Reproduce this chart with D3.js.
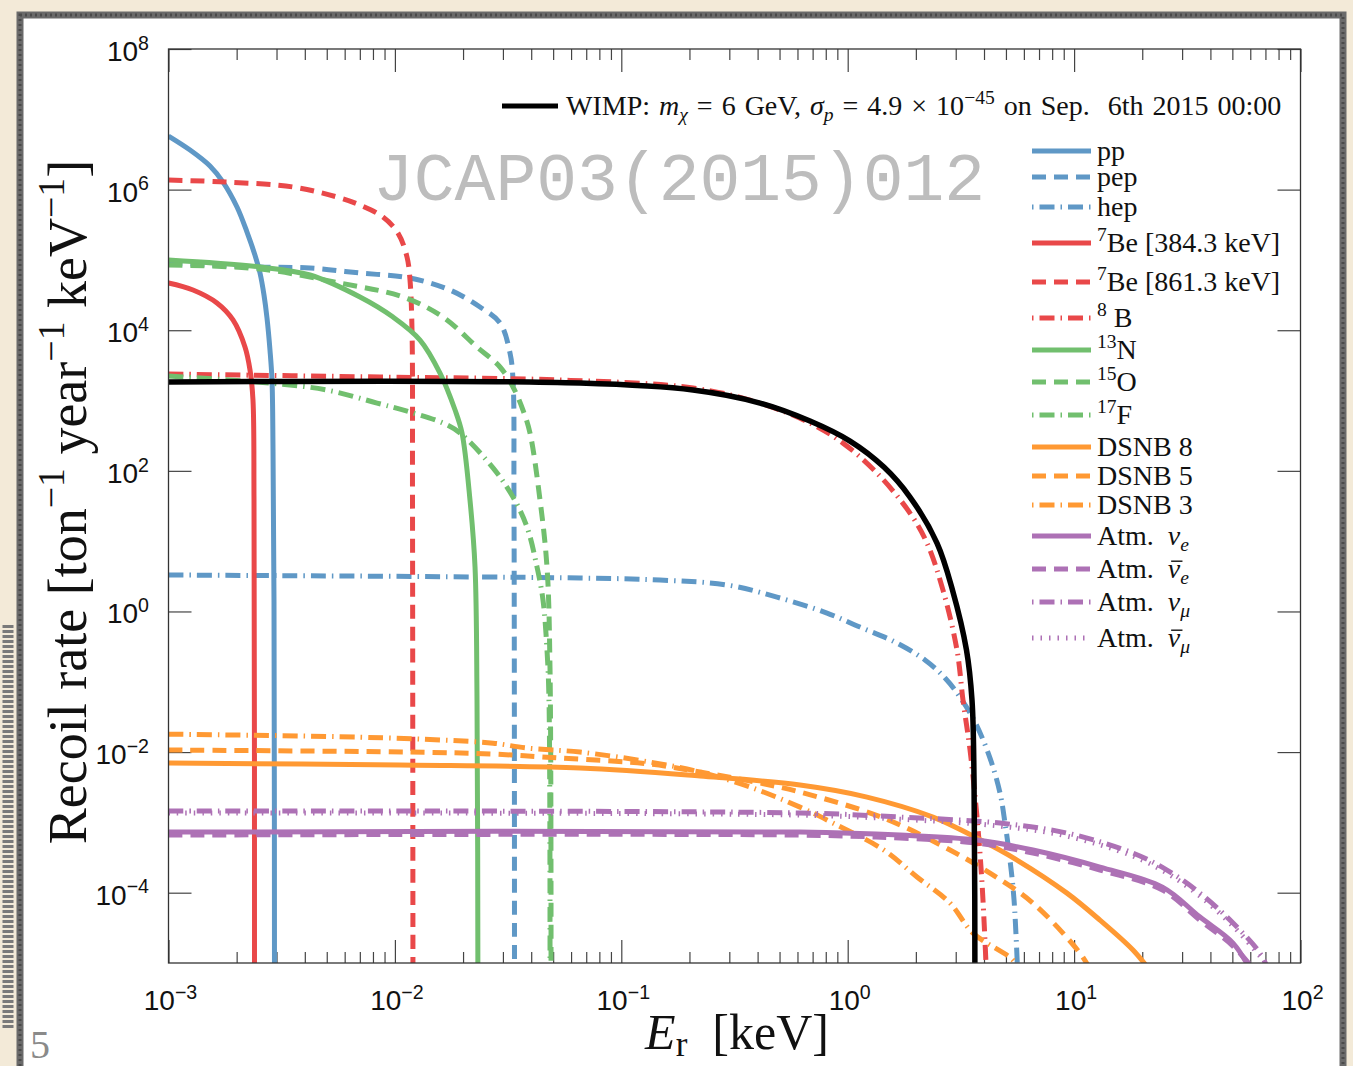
<!DOCTYPE html>
<html lang="en">
<head>
<meta charset="UTF-8">
<title>Recoil rate</title>
<script src="https://cdn.jsdelivr.net/npm/d3@7"></script>
<style>
  body { margin: 0; background: #f3ead8; }
  svg { display: block; }
  text { white-space: pre; }
  .serif { font-family: "Liberation Serif", "DejaVu Serif", serif; fill: #111; }
  .sans { font-family: "Liberation Sans", Arial, sans-serif; fill: #111; }
  .ticks line { stroke: #444; stroke-width: 1.2; }
</style>
</head>
<body>
<script>
// ---- data (E in keV, rate in ton^-1 year^-1 keV^-1) ----
const ppE = [1e-3, 1.245e-3, 1.525e-3, 1.741e-3, 2.007e-3, 2.222e-3, 2.41e-3, 2.536e-3, 2.641e-3, 2.723e-3, 2.807e-3, 2.865e-3, 2.895e-3, 2.924e-3, 2.94e-3];
const ppR = [5.78e6, 3.66e6, 2.17e6, 1.28e6, 5.66e5, 2.49e5, 1.17e5, 6.51e4, 3.17e4, 1.49e4, 5.22e3, 1.96e3, 198, 1.45, 1e-6];

const pepE = [1e-3, 2.536e-3, 4.217e-3, 7.01e-3, 1.166e-2, 1.751e-2, 2.376e-2, 2.912e-2, 3.224e-2, 3.324e-2, 3.357e-2, 3.375e-2];
const pepR = [9.04e4, 7.93e4, 7.67e4, 6.51e4, 5.53e4, 3.73e4, 2.14e4, 1.27e4, 4.74e3, 1.96e3, 38.5, 1e-6];

const hepE = [1e-3, 6.57e-2, 0.1482, 0.293, 0.4872, 0.8103, 1.133, 1.585, 2.194, 2.691, 3.133, 3.65, 4.252, 4.708, 4.953, 5.21, 5.43, 5.66];
const hepR = [3.30, 2.99, 2.80, 2.38, 1.60, 0.948, 0.60, 0.379, 0.204, 0.113, 6.05e-2, 2.67e-2, 8.22e-3, 2.61e-3, 9.77e-4, 2.91e-4, 7.85e-5, 5e-6];

const be7aE = [1e-3, 1.283e-3, 1.637e-3, 1.927e-3, 2.177e-3, 2.291e-3, 2.361e-3, 2.386e-3, 2.398e-3];
const be7aR = [4.69e4, 3.73e4, 2.44e4, 1.40e4, 5.77e3, 2.72e3, 1.02e3, 38.5, 1e-6];

const be7bE = [1e-3, 1.812e-3, 3.548e-3, 5.55e-3, 7.01e-3, 8.86e-3, 1.032e-2, 1.131e-2, 1.166e-2, 1.19e-2, 1.196e-2, 1.202e-2];
const be7bR = [1.37e6, 1.28e6, 1.09e6, 7.85e5, 6.04e5, 4.07e5, 2.41e5, 1.10e5, 5.18e4, 1.01e4, 38.5, 1e-6];

const b8E = [1e-3, 8.59e-3, 5.36e-2, 0.2074, 0.41, 0.6815, 0.9533, 1.347, 1.884, 2.24, 2.636, 3.039, 3.23, 3.47, 3.725, 3.92, 4.12];
const b8R = [2.38e3, 2.16e3, 1.96e3, 1.51e3, 921, 479, 248, 93.1, 25.1, 9.4, 2.01, 0.283, 0.055, 1.07e-2, 1.19e-3, 1.37e-4, 5e-6];

const n13E = [1e-3, 2.536e-3, 4.217e-3, 7.01e-3, 9.81e-3, 1.291e-2, 1.582e-2, 1.844e-2, 1.979e-2, 2.146e-2, 2.259e-2, 2.305e-2, 2.328e-2];
const n13R = [9.97e4, 7.93e4, 6.10e4, 2.97e4, 1.54e4, 7.26e3, 2.46e3, 733, 345, 38.5, 4.28, 0.055, 1e-6];

const o15E = [1e-3, 2.536e-3, 5.72e-3, 1.086e-2, 1.631e-2, 2.305e-2, 2.912e-2, 3.324e-2, 3.679e-2, 3.951e-2, 4.375e-2, 4.697e-2, 4.842e-2, 4.892e-2];
const o15R = [8.46e4, 7.43e4, 4.69e4, 2.97e4, 1.54e4, 5.77e3, 3.0e3, 1.56e3, 733, 345, 38.5, 4.28, 0.162, 1e-6];

const f17E = [1e-3, 2.807e-3, 5.01e-3, 8.34e-3, 1.166e-2, 1.631e-2, 1.94e-2, 2.713e-2, 3.324e-2, 3.832e-2, 4.244e-2, 4.51e-2, 4.697e-2, 4.793e-2, 4.842e-2];
const f17R = [2.23e3, 1.77e3, 1.41e3, 921, 686, 479, 345, 110, 42.4, 15.9, 4.28, 1.45, 0.283, 0.055, 1e-6];

const dsnb8E = [1e-3, 1.053e-2, 6.57e-2, 0.2226, 0.6157, 1.217, 2.381, 3.725, 5.595, 9.30, 13.01, 18.2, 21.5];
const dsnb8R = [6.98e-3, 6.53e-3, 5.92e-3, 4.56e-3, 3.40e-3, 2.29e-3, 1.19e-3, 5.98e-4, 2.91e-4, 9.86e-5, 4.07e-5, 1.53e-5, 8e-6];

const dsnb5E = [1e-3, 1.166e-2, 2.713e-2, 5.36e-2, 0.1339, 0.2226, 0.3702, 0.6157, 1.445, 2.831, 4.252, 6.58, 10.62, 11.8];
const dsnb5R = [1.07e-2, 1.0e-2, 9.37e-3, 8.22e-3, 6.75e-3, 5.2e-3, 3.87e-3, 2.70e-3, 1.15e-3, 4.04e-4, 1.90e-4, 7.11e-5, 1.38e-5, 8e-6];

const dsnb3E = [1e-3, 7.01e-3, 1.631e-2, 2.713e-2, 3.832e-2, 6.57e-2, 0.1339, 0.2226, 0.3702, 0.6157, 0.861, 1.445, 2.024, 2.831, 3.576, 5.37, 5.65];
const dsnb3R = [1.80e-2, 1.63e-2, 1.48e-2, 1.34e-2, 1.14e-2, 1.0e-2, 7.21e-3, 5.2e-3, 3.18e-3, 1.65e-3, 9.77e-4, 4.04e-4, 1.67e-4, 7.11e-5, 2.66e-5, 1.10e-5, 8e-6];

const atmNueE = [1e-3, 0.6157, 1.702, 3.725, 6.58, 13.01, 24.57, 35.98, 50.35, 60.0];
const atmNueR = [7.28e-4, 7.28e-4, 6.59e-4, 5.6e-4, 4.04e-4, 2.31e-4, 1.2e-4, 4.5e-5, 1.92e-5, 8e-6];

const atmNuebE = [1e-3, 0.6157, 1.702, 3.725, 6.58, 13.01, 24.57, 35.98, 50.35, 62.5];
const atmNuebR = [6.59e-4, 6.59e-4, 5.98e-4, 5.08e-4, 3.66e-4, 2.1e-4, 1.09e-4, 4.07e-5, 1.74e-5, 8e-6];

const atmNumuE = [1e-3, 0.6157, 1.702, 4.708, 9.30, 18.2, 25.72, 35.98, 50.35, 66.24, 72.0];
const atmNumuR = [1.45e-3, 1.36e-3, 1.19e-3, 9.77e-4, 7.05e-4, 3.66e-4, 2.1e-4, 9.86e-5, 3.7e-5, 1.38e-5, 8e-6];

const atmNumubE = [1e-3, 0.6157, 1.702, 4.708, 9.30, 18.2, 25.72, 35.98, 50.35, 66.24, 73.5];
const atmNumubR = [1.36e-3, 1.27e-3, 1.11e-3, 8.85e-4, 6.38e-4, 3.32e-4, 1.90e-4, 8.95e-5, 3.35e-5, 1.25e-5, 8e-6];

const wimpE = [1e-3, 6.57e-2, 0.2074, 0.41, 0.6815, 1.024, 1.445, 1.884, 2.48, 2.904, 3.347, 3.54, 3.614, 3.65];
const wimpR = [1.83e3, 1.77e3, 1.41e3, 921, 511, 265, 113, 42.4, 9.4, 2.01, 0.283, 0.055, 4.0e-3, 1e-6];

// tick labels (powers of ten)
const xTickExp = [-3, -2, -1, 0, 1, 2];
const yTickExp = [-4, -2, 0, 2, 4, 6, 8];

const labels = ["pp", "pep", "hep", "^{7}Be [384.3 keV]", "^{7}Be [861.3 keV]", "^{8} B",
  "^{13}N", "^{15}O", "^{17}F", "DSNB 8", "DSNB 5", "DSNB 3",
  "Atm.  *ν*_{e}", "Atm.  !{ν}_{e}", "Atm.  *ν*_{μ}", "Atm.  !{ν}_{μ}"];
const wimpLabel = "WIMP: *m*_{χ} = 6 GeV, *σ*_{p} = 4.9 × 10^{−45} on Sep.  6th 2015 00:00";

// ---- styles ----
const blue = "#5f98c6", red = "#e94849", green = "#71bf6e", orange = "#ff9933", purple = "#ad71b5";
const dash = { solid: null, dashed: "14,8", dashdot: "15,6,1.5,6", dotted: "1.5,7" };

const series = [
  { E: ppE, R: ppR, c: blue, d: "solid" },
  { E: pepE, R: pepR, c: blue, d: "dashed" },
  { E: hepE, R: hepR, c: blue, d: "dashdot" },
  { E: be7aE, R: be7aR, c: red, d: "solid" },
  { E: be7bE, R: be7bR, c: red, d: "dashed" },
  { E: b8E, R: b8R, c: red, d: "dashdot" },
  { E: n13E, R: n13R, c: green, d: "solid" },
  { E: o15E, R: o15R, c: green, d: "dashed" },
  { E: f17E, R: f17R, c: green, d: "dashdot" },
  { E: dsnb8E, R: dsnb8R, c: orange, d: "solid" },
  { E: dsnb5E, R: dsnb5R, c: orange, d: "dashed" },
  { E: dsnb3E, R: dsnb3R, c: orange, d: "dashdot" },
  { E: atmNueE, R: atmNueR, c: purple, d: "solid" },
  { E: atmNuebE, R: atmNuebR, c: purple, d: "dashed" },
  { E: atmNumuE, R: atmNumuR, c: purple, d: "dashdot" },
  { E: atmNumubE, R: atmNumubR, c: purple, d: "dotted" }
];
series.forEach((s, i) => s.label = labels[i]);

// ^{..} superscript, _{..} italic subscript, *..* italic, !{..} italic with a bar
function rich(sel, str, fs) {
  const parts = str.split(/(\^\{[^}]*\}|_\{[^}]*\}|!\{[^}]*\}|\*[^*]*\*)/).filter(p => p.length);
  let cur = 0;
  const bars = [];
  parts.forEach(p => {
    let t = p, size = fs, off = 0, it = false, bar = false;
    if (p.startsWith("^{")) { t = p.slice(2, -1); size = fs * 0.7; off = -fs * 0.4; }
    else if (p.startsWith("_{")) { t = p.slice(2, -1); size = fs * 0.7; off = fs * 0.22; it = true; }
    else if (p.startsWith("!{")) { t = p.slice(2, -1); it = true; bar = true; }
    else if (p.startsWith("*")) { t = p.slice(1, -1); it = true; }
    const ts = sel.append("tspan").attr("dy", off - cur).attr("font-size", size)
      .attr("font-style", it ? "italic" : null).text(t);
    if (bar) bars.push(ts.node());
    cur = off;
  });
  bars.forEach(n => {
    const p0 = n.getStartPositionOfChar(0), w = n.getComputedTextLength();
    d3.select(sel.node().parentNode).append("line")
      .attr("x1", p0.x + fs * 0.12).attr("x2", p0.x + w + fs * 0.08)
      .attr("y1", p0.y - fs * 0.6).attr("y2", p0.y - fs * 0.6)
      .attr("stroke", "#111").attr("stroke-width", 1.4);
  });
}

const W = 1353, H = 1066;
const L = 168.5, Rt = 1300.5, T = 49, B = 963;

const svg = d3.select("body").append("svg").attr("width", W).attr("height", H);

// slide background and card
svg.append("rect").attr("width", W).attr("height", H).attr("fill", "#f3ead8");
svg.append("line").attr("x1", 8).attr("x2", 8).attr("y1", 625).attr("y2", 1030)
  .attr("stroke", "#7a7a7a").attr("stroke-width", 11).attr("stroke-dasharray", "3,2");
svg.append("rect").attr("x", 20).attr("y", 15).attr("width", 1323).attr("height", 1080)
  .attr("fill", "#fff").attr("stroke", "#6a6a6a").attr("stroke-width", 7);
svg.append("rect").attr("x", 20).attr("y", 15).attr("width", 1323).attr("height", 1080)
  .attr("fill", "none").attr("stroke", "#4a4a4a").attr("stroke-width", 3).attr("stroke-dasharray", "2,3");
svg.append("text").attr("class", "serif").attr("x", 30).attr("y", 1058)
  .attr("font-size", 40).style("fill", "#8a8a8a").text("5");

const x = d3.scaleLog().domain([1e-3, 1e2]).range([L, Rt]);
const y = d3.scaleLog().domain([1e-5, 1e8]).range([B, T]);

const xMajor = xTickExp.map(e => Math.pow(10, e));
const xMinor = xMajor.slice(0, -1).flatMap(v => d3.range(2, 10).map(k => k * v));
const yMajor = yTickExp.map(e => Math.pow(10, e));

// ticks (inward)
const tk = svg.append("g").attr("class", "ticks");
const noDomain = g => g.select(".domain").remove();
tk.append("g").attr("transform", `translate(0,${B})`)
  .call(d3.axisBottom(x).tickValues(xMajor).tickSizeInner(-23).tickSizeOuter(0).tickFormat("")).call(noDomain);
tk.append("g").attr("transform", `translate(0,${B})`)
  .call(d3.axisBottom(x).tickValues(xMinor).tickSizeInner(-11).tickSizeOuter(0).tickFormat("")).call(noDomain);
tk.append("g").attr("transform", `translate(0,${T})`)
  .call(d3.axisTop(x).tickValues(xMajor).tickSizeInner(-23).tickSizeOuter(0).tickFormat("")).call(noDomain);
tk.append("g").attr("transform", `translate(0,${T})`)
  .call(d3.axisTop(x).tickValues(xMinor).tickSizeInner(-11).tickSizeOuter(0).tickFormat("")).call(noDomain);
tk.append("g").attr("transform", `translate(${L},0)`)
  .call(d3.axisLeft(y).tickValues(yMajor).tickSizeInner(-23).tickSizeOuter(0).tickFormat("")).call(noDomain);
tk.append("g").attr("transform", `translate(${Rt},0)`)
  .call(d3.axisRight(y).tickValues(yMajor).tickSizeInner(-23).tickSizeOuter(0).tickFormat("")).call(noDomain);

// curves
svg.append("clipPath").attr("id", "clip").append("rect")
  .attr("x", L).attr("y", T).attr("width", Rt - L).attr("height", B - T);
const line = d3.line().x(d => x(d[0])).y(d => y(d[1])).curve(d3.curveCatmullRom.alpha(0.5));
const plot = svg.append("g").attr("clip-path", "url(#clip)");
series.forEach(s => {
  plot.append("path").attr("d", line(d3.zip(s.E, s.R)))
    .attr("fill", "none").attr("stroke", s.c).attr("stroke-width", 5)
    .attr("stroke-dasharray", dash[s.d]);
});
plot.append("path").attr("d", line(d3.zip(wimpE, wimpR)))
  .attr("fill", "none").attr("stroke", "#000").attr("stroke-width", 5.5);

// frame
svg.append("rect").attr("x", L).attr("y", T).attr("width", Rt - L).attr("height", B - T)
  .attr("fill", "none").attr("stroke", "#333").attr("stroke-width", 1.3);

// tick labels
const sup = e => `10^{${e < 0 ? "−" + (-e) : e}}`;
xTickExp.forEach(e => {
  const t = svg.append("text").attr("class", "sans").attr("x", x(Math.pow(10, e)) + 2).attr("y", 1010)
    .attr("text-anchor", "middle").attr("font-size", 28);
  rich(t, sup(e), 28);
});
yTickExp.forEach(e => {
  const t = svg.append("text").attr("class", "sans").attr("x", 149).attr("y", y(Math.pow(10, e)) + 12)
    .attr("text-anchor", "end").attr("font-size", 28);
  rich(t, sup(e), 28);
});

// axis titles
const yt = svg.append("text").attr("class", "serif").attr("font-size", 54)
  .attr("text-anchor", "middle").attr("transform", "translate(86,502) rotate(-90)");
rich(yt, "Recoil rate [ton^{−1} year^{−1} keV^{−1}]", 54);
const xt = svg.append("text").attr("class", "serif").attr("font-size", 50)
  .attr("text-anchor", "middle").attr("x", 737).attr("y", 1049);
xt.append("tspan").attr("font-style", "italic").text("E");
xt.append("tspan").attr("font-size", 35).attr("dy", 7).text("r");
xt.append("tspan").attr("dy", -7).text("  [keV]");

// watermark
svg.append("text").attr("x", 373).attr("y", 200)
  .attr("font-family", "'Liberation Mono', 'DejaVu Sans Mono', monospace")
  .attr("font-size", 68).attr("fill", "#bdbdbd").text("JCAP03(2015)012");

// legend
svg.append("line").attr("x1", 502).attr("x2", 558).attr("y1", 106).attr("y2", 106)
  .attr("stroke", "#000").attr("stroke-width", 5);
rich(svg.append("text").attr("class", "serif").attr("x", 566).attr("y", 115)
  .attr("font-size", 28).attr("word-spacing", 2), wimpLabel, 28);

const legendRowY = [151, 177, 207, 243, 282, 318, 350, 382, 415, 447, 476, 505, 536, 569, 602, 638];
const lg = svg.append("g").selectAll("g").data(series).join("g")
  .attr("transform", (d, i) => `translate(0,${legendRowY[i]})`);
lg.append("line").attr("x1", 1032).attr("x2", 1091)
  .attr("stroke", d => d.c).attr("stroke-width", 5)
  .attr("stroke-dasharray", d => dash[d.d])
  .attr("stroke-dashoffset", d => d.d === "dashdot" ? 21 : 0);
lg.append("text").attr("class", "serif").attr("x", 1097).attr("y", 9).attr("font-size", 28)
  .each(function(d) { rich(d3.select(this), d.label, 28); });
</script>
</body>
</html>
